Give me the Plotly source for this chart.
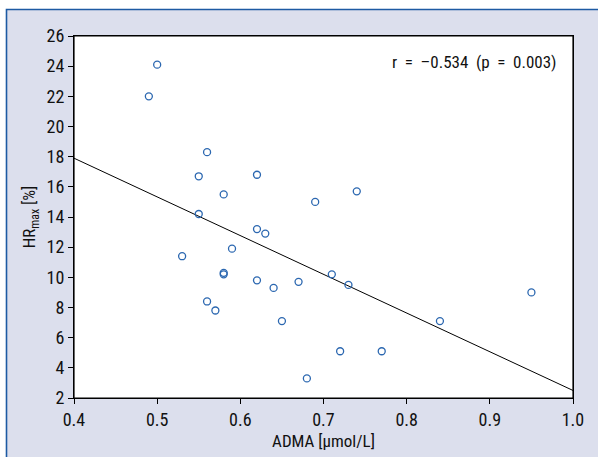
import plotly.graph_objects as go

# Data
adma = [0.50, 0.49, 0.56, 0.55, 0.62, 0.58, 0.55, 0.62, 0.63, 0.53, 0.59,
        0.58, 0.58, 0.62, 0.64, 0.56, 0.57, 0.65, 0.67, 0.69, 0.74, 0.71,
        0.73, 0.95, 0.84, 0.72, 0.77, 0.68]
hrmax = [24.1, 22.0, 18.3, 16.7, 16.8, 15.5, 14.2, 13.2, 12.9, 11.4, 11.9,
         10.3, 10.2, 9.8, 9.3, 8.4, 7.8, 7.1, 9.7, 15.0, 15.7, 10.2,
         9.5, 9.0, 7.1, 5.1, 5.1, 3.3]
fit_x = [0.4, 1.0]
fit_y = [17.9, 2.5]

x_ticks = [0.4, 0.5, 0.6, 0.7, 0.8, 0.9, 1.0]
x_ticklabels = ["0.4", "0.5", "0.6", "0.7", "0.8", "0.9", "1.0"]
y_ticks = list(range(2, 27, 2))

FONT = "Roboto Condensed, Liberation Sans, Arial, sans-serif"

fig = go.Figure()
fig.add_trace(go.Scatter(x=fit_x, y=fit_y, mode="lines",
                         line=dict(color="black", width=1), hoverinfo="skip"))
fig.add_trace(go.Scatter(x=adma, y=hrmax, mode="markers",
                         marker=dict(symbol="circle-open", size=7,
                                     color="#2b67b0", line=dict(width=1.3))))

L, R, T, B = 74, 25, 36, 59
W, H = 598, 457
pw, ph = W - L - R, H - T - B

def px(xp):
    return (xp - L) / pw

def py(yp):
    return (H - B - yp) / ph

fig.update_layout(
    width=W, height=H,
    margin=dict(l=L, r=R, t=T, b=B, pad=0, autoexpand=False),
    paper_bgcolor="white", plot_bgcolor="white",
    showlegend=False,
    font=dict(family=FONT, size=16, color="#111111"),
    shapes=[
        dict(type="rect", xref="paper", yref="paper", layer="below",
             x0=px(6.5), x1=px(W + 5), y0=py(H + 5), y1=py(9.5),
             fillcolor="#dcdfed", line=dict(color="#1d5aa3", width=1.6)),
        dict(type="rect", xref="paper", yref="paper", layer="below",
             x0=0, x1=1, y0=0, y1=1, fillcolor="white",
             line=dict(color="black", width=1.2)),
    ],
    annotations=[
        dict(text="r\u2002=\u2002\u20130.534\u2002(p\u2002=\u20020.003)",
             xref="paper", yref="paper",
             x=px(559), y=py(62), xanchor="right", yanchor="middle",
             showarrow=False, font=dict(family=FONT, size=17, color="#111111")),
    ],
)
fig.update_xaxes(range=[0.4, 1.0], tickvals=x_ticks, ticktext=x_ticklabels,
                 ticks="outside", ticklen=5, tickcolor="black",
                 showline=True, linecolor="black", linewidth=1.2, mirror=True,
                 showgrid=False, zeroline=False, automargin=False,
                 title=dict(text="ADMA [\u03bcmol/L]", standoff=6,
                            font=dict(family=FONT, size=17)),
                 tickfont=dict(family=FONT, size=18))
fig.update_yaxes(range=[2, 26], tickvals=y_ticks,
                 ticks="outside", ticklen=5, tickcolor="black",
                 showline=True, linecolor="black", linewidth=1.2, mirror=True,
                 showgrid=False, zeroline=False, automargin=False,
                 title=dict(text="HR<sub>max</sub> [%]", standoff=6,
                            font=dict(family=FONT, size=17)),
                 tickfont=dict(family=FONT, size=18))

fig.write_html("out.html", config={"displayModeBar": False},
               post_script="document.body.style.margin='0';document.body.style.overflow='hidden';")
